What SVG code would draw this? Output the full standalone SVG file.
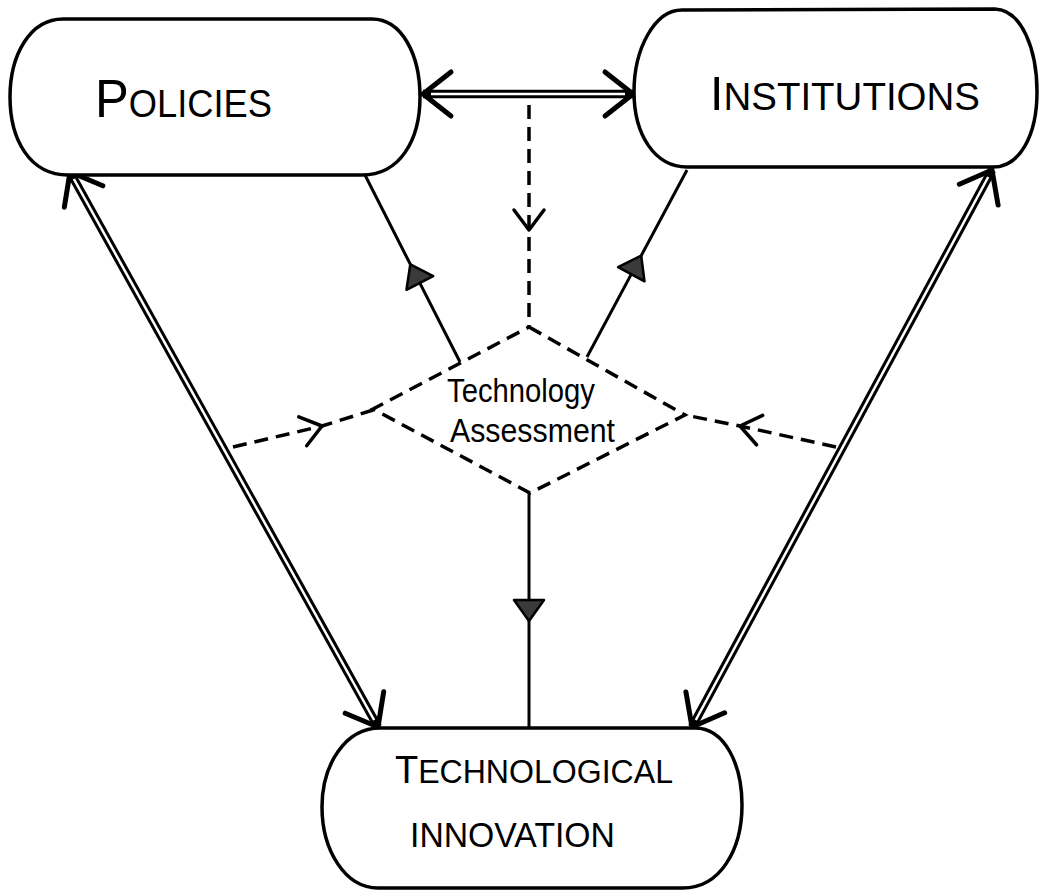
<svg xmlns="http://www.w3.org/2000/svg" width="1040" height="893" viewBox="0 0 1040 893">
<style>
.node{fill:#fff;stroke:#000;stroke-width:3.5;stroke-linejoin:round}
.lbl{font-family:"Liberation Sans",Arial,sans-serif;fill:#000}
.hand{font-family:"Liberation Sans",Arial,sans-serif;fill:#000;font-size:33px}
.dash{fill:none;stroke:#000;stroke-width:3.5;stroke-dasharray:14 8}
.solid{fill:none;stroke:#000;stroke-width:3}
.dblo{fill:none;stroke:#000;stroke-width:8.5}
.dbli{fill:none;stroke:#fff;stroke-width:2.5}
</style>
<defs>
<marker id="bigV" markerUnits="userSpaceOnUse" viewBox="-40 -30 50 60" markerWidth="50" markerHeight="60" refX="0" refY="0" orient="auto-start-reverse" overflow="visible">
<path d="M-28,-22 L0,0 L-28,22" fill="none" stroke="#000" stroke-width="5" stroke-linecap="round" stroke-linejoin="round"/>
</marker>
<marker id="smallV" markerUnits="userSpaceOnUse" viewBox="-30 -20 40 40" markerWidth="40" markerHeight="40" refX="0" refY="0" orient="auto" overflow="visible">
<path d="M-20,-15 L0,0 L-20,15" fill="none" stroke="#000" stroke-width="3.5" stroke-linecap="round" stroke-linejoin="round"/>
</marker>
<marker id="tri" markerUnits="userSpaceOnUse" viewBox="-20 -20 40 40" markerWidth="40" markerHeight="40" refX="0" refY="0" orient="auto" overflow="visible">
<path d="M11,0 L-10,-15 L-10,15 Z" fill="#3a3a3a" stroke="#000" stroke-width="2.5" stroke-linejoin="round"/>
</marker>
</defs>
<rect width="1040" height="893" fill="#fff"/>
<g id="connectors">
<path class="dblo" d="M423,94 L633,94" marker-start="url(#bigV)" marker-end="url(#bigV)"/>
<path class="dbli" d="M431,94 L625,94"/>
<path class="dblo" d="M70,172 L378,727" marker-start="url(#bigV)" marker-end="url(#bigV)"/>
<path class="dbli" d="M73.9,179 L374.1,720"/>
<path class="dblo" d="M992,170 L692,727" marker-start="url(#bigV)" marker-end="url(#bigV)"/>
<path class="dbli" d="M988.2,177 L695.8,720"/>
<path class="dash" d="M529,105 L529,230 L529,327" marker-mid="url(#smallV)"/>
<path class="dash" d="M233,447 L322,426 L373,410" marker-mid="url(#smallV)"/>
<path class="dash" d="M836,447 L740,426 L685,415" marker-mid="url(#smallV)"/>
<path class="solid" d="M460,362 L415.3,274.1 L365,175" marker-mid="url(#tri)"/>
<path class="solid" d="M587,357 L636,265.4 L687,170" marker-mid="url(#tri)"/>
<path class="solid" d="M529,493 L529,610 L529,728" marker-mid="url(#tri)"/>
</g>
<g id="policies">
<path class="node" d="M63,19 L372,19 C402,19 420,55 420,97 C420,140 400,175 362,175 L68,175 C30,175 10,140 10,97 C10,55 30,19 63,19 Z"/>
<text class="lbl" x="95" y="117" textLength="177" lengthAdjust="spacingAndGlyphs"><tspan font-size="53">P</tspan><tspan font-size="38">OLICIES</tspan></text>
</g>
<g id="institutions">
<path class="node" d="M682,10 L995,9 C1022,10 1037,50 1037,92 C1037,135 1020,167 993,167 L687,167 C655,167 634,135 634,92 C634,48 655,10 682,10 Z"/>
<text class="lbl" x="710" y="110" textLength="270" lengthAdjust="spacingAndGlyphs"><tspan font-size="49">I</tspan><tspan font-size="39">NSTITUTIONS</tspan></text>
</g>
<g id="technological-innovation">
<path class="node" d="M380,728 L695,728 C725,728 742,765 742,805 C742,850 720,888 683,888 L378,888 C345,888 322,850 322,807 C322,765 345,728 380,728 Z"/>
<text class="lbl" x="395" y="783" textLength="278" lengthAdjust="spacingAndGlyphs"><tspan font-size="39">T</tspan><tspan font-size="33">ECHNOLOGICAL</tspan></text>
<text class="lbl" x="410" y="847" font-size="35" textLength="205" lengthAdjust="spacingAndGlyphs">INNOVATION</text>
</g>
<g id="technology-assessment">
<path class="dash" d="M529,327 L685,415 L530,493 L373,409 Z"/>
<text class="hand" x="447" y="402" textLength="148" lengthAdjust="spacingAndGlyphs">Technology</text>
<text class="hand" x="450" y="442" textLength="165" lengthAdjust="spacingAndGlyphs">Assessment</text>
</g>
</svg>
